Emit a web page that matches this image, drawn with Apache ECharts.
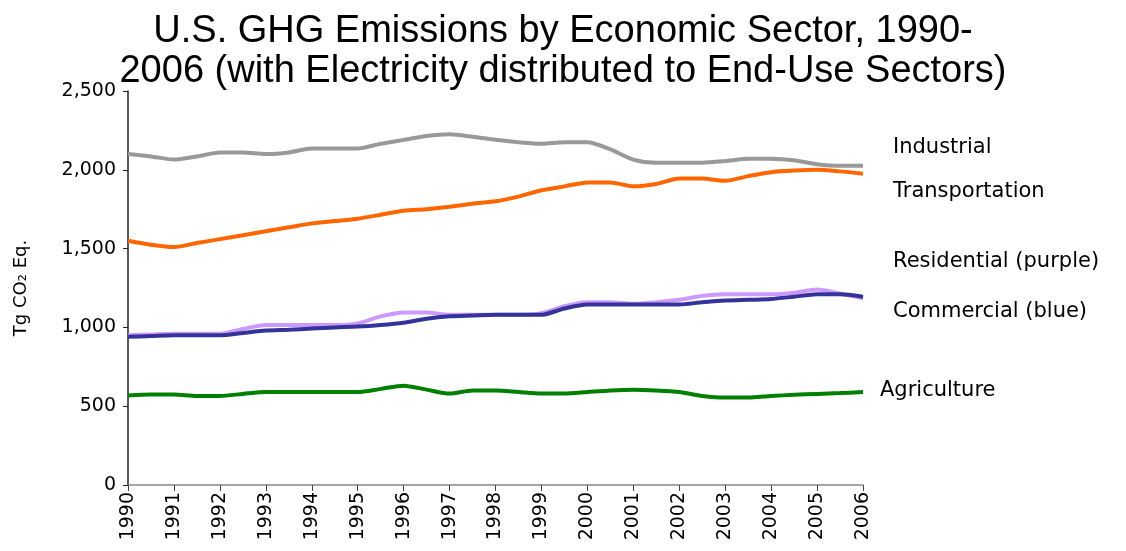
<!DOCTYPE html>
<html>
<head>
<meta charset="utf-8">
<script src="https://cdn.jsdelivr.net/npm/echarts@6/dist/echarts.min.js"></script>
<style>
  html, body { margin: 0; padding: 0; background: #fff; }
  #chart { width: 1126px; height: 551px; }
</style>
</head>
<body>
<div id="chart"></div>
<script>
// half-year steps
var years = [1990, 1990.5, 1991, 1991.5, 1992, 1992.5, 1993, 1993.5, 1994, 1994.5,
    1995, 1995.5, 1996, 1996.5, 1997, 1997.5, 1998, 1998.5, 1999, 1999.5,
    2000, 2000.5, 2001, 2001.5, 2002, 2002.5, 2003, 2003.5, 2004, 2004.5,
    2005, 2005.5, 2006];

var industrial = [2100, 2085, 2065, 2085, 2110, 2110, 2100, 2110, 2135, 2135,
    2135, 2165, 2190, 2215, 2225, 2210, 2190, 2175, 2165, 2175,
    2175, 2130, 2065, 2045, 2045, 2045, 2055, 2070, 2070, 2060,
    2035, 2025, 2025];

var transportation = [1550, 1525, 1510, 1535, 1560, 1585, 1610, 1635, 1660, 1675,
    1690, 1715, 1740, 1750, 1765, 1785, 1800, 1830, 1870, 1895,
    1920, 1920, 1895, 1910, 1945, 1945, 1930, 1960, 1985, 1995,
    2000, 1990, 1975];

var residential = [950, 955, 960, 960, 960, 990, 1015, 1015, 1015, 1015,
    1025, 1070, 1095, 1095, 1080, 1080, 1080, 1080, 1090, 1135,
    1160, 1160, 1150, 1160, 1175, 1200, 1210, 1210, 1210, 1220,
    1240, 1215, 1185];

var commercial = [940, 945, 950, 950, 950, 965, 980, 985, 993, 1000,
    1005, 1015, 1030, 1055, 1070, 1075, 1080, 1080, 1080, 1120,
    1145, 1145, 1145, 1145, 1145, 1160, 1170, 1175, 1180, 1195,
    1210, 1210, 1195];

var agriculture = [568, 575, 575, 565, 565, 578, 590, 590, 590, 590,
    590, 610, 630, 605, 580, 600, 600, 590, 580, 580,
    590, 600, 605, 600, 590, 565, 555, 555, 565, 572,
    578, 583, 590];

var yTicks = [0, 500, 1000, 1500, 2000, 2500];

function pairs(vals) {
    return years.map(function (y, i) { return [y, vals[i]]; });
}

var chart = echarts.init(document.getElementById('chart'));

function line(name, vals, color) {
    return {
        name: name,
        type: 'line',
        data: pairs(vals),
        showSymbol: false,
        smooth: 0.25,
        lineStyle: { color: color, width: 4 },
        itemStyle: { color: color }
    };
}

var labelFont = { fontFamily: 'DejaVu Sans', fontSize: 21, fill: '#000' };

let option = {
    animation: false,
    title: {
        text: 'U.S. GHG Emissions by Economic Sector, 1990-\n2006 (with Electricity distributed to End-Use Sectors)',
        left: 'center',
        top: 7,
        textStyle: {
            fontFamily: 'Liberation Sans',
            fontWeight: 'normal',
            fontSize: 38,
            lineHeight: 40,
            color: '#000'
        }
    },
    grid: { left: 128, right: 263, top: 91, bottom: 66 },
    xAxis: {
        type: 'value',
        min: 1990,
        max: 2006,
        interval: 1,
        axisLine: { lineStyle: { color: '#888', width: 1.5 } },
        axisTick: { length: 6, lineStyle: { color: '#444' } },
        splitLine: { show: false },
        axisLabel: {
            rotate: 90,
            margin: 7,
            fontFamily: 'DejaVu Sans',
            fontSize: 19,
            color: '#000',
            formatter: function (v) { return String(v); }
        }
    },
    yAxis: {
        type: 'value',
        min: yTicks[0],
        max: yTicks[yTicks.length - 1],
        interval: 500,
        name: 'Tg CO\u2082 Eq.',
        nameLocation: 'middle',
        nameGap: 98,
        nameTextStyle: { fontFamily: 'DejaVu Sans', fontSize: 18, color: '#000' },
        axisLine: { show: true, lineStyle: { color: '#222', width: 1.5 } },
        axisTick: { show: true, length: 5, lineStyle: { color: '#222' } },
        splitLine: { show: false },
        axisLabel: {
            margin: 12,
            fontFamily: 'DejaVu Sans',
            fontSize: 19,
            color: '#000',
            formatter: function (v) { return v.toLocaleString('en-US'); }
        }
    },
    series: [
        line('Industrial', industrial, '#999999'),
        line('Transportation', transportation, '#FF6600'),
        line('Agriculture', agriculture, '#008000'),
        line('Residential', residential, '#CC99FF'),
        line('Commercial', commercial, '#333399')
    ],
    graphic: [
        { type: 'text', left: 893, top: 137, style: Object.assign({ text: 'Industrial' }, labelFont) },
        { type: 'text', left: 893, top: 181, style: Object.assign({ text: 'Transportation' }, labelFont) },
        { type: 'text', left: 893, top: 251, style: Object.assign({ text: 'Residential (purple)' }, labelFont) },
        { type: 'text', left: 893, top: 301, style: Object.assign({ text: 'Commercial (blue)' }, labelFont) },
        { type: 'text', left: 880, top: 380, style: Object.assign({ text: 'Agriculture' }, labelFont) }
    ]
};

chart.setOption(option);
</script>
</body>
</html>
